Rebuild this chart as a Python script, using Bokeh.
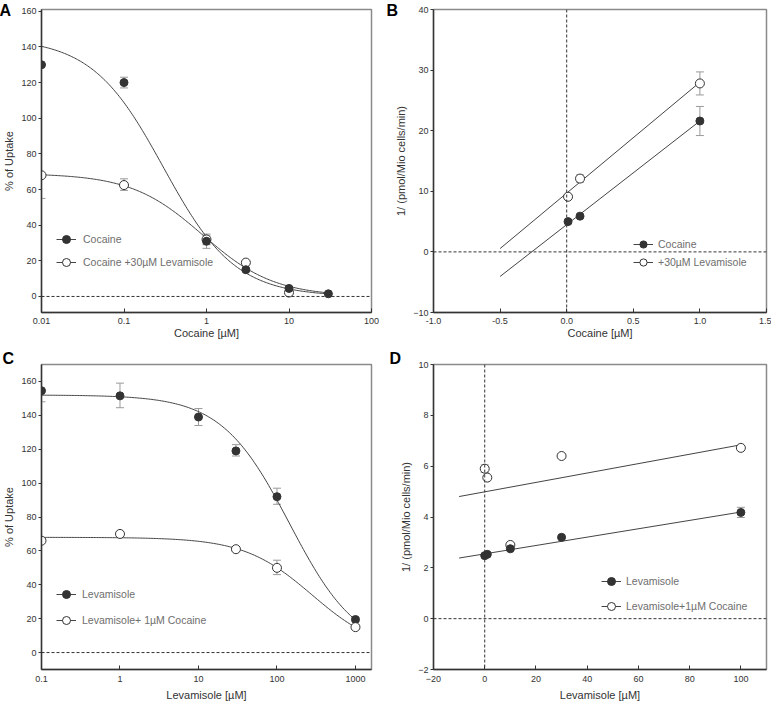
import numpy as np
from bokeh.plotting import figure
from bokeh.models import (Range1d, FixedTicker, CustomJSTickFormatter, Span, Whisker,
                          TeeHead, ColumnDataSource, Legend, LegendItem,
                          NumeralTickFormatter)
from bokeh.layouts import column, row
from bokeh.embed import file_html
from bokeh.resources import INLINE

FONT = "Liberation Sans"
DARK = "#333333"
ERR = "#9a9a9a"

# ---------------- Panel A data ----------------
a_coc_x = [0.01, 0.1, 1, 3, 10, 30]
a_coc_y = [130, 120, 31, 15, 4.5, 1.5]
a_coc_lo = [130, 117, 27, 14, 3.5, 1.0]
a_coc_hi = [130, 123, 35, 16, 5.5, 2.0]
a_lev_x = [0.01, 0.1, 1, 3, 10]
a_lev_y = [68, 62.5, 32, 19, 2.2]
a_lev_lo = [55, 59.5, 29, 18, 1.5]
a_lev_hi = [68, 66, 34, 20, 3.0]
a_coc_fit = [145, 0.3, 1.0]   # top, IC50, hill
a_lev_fit = [69, 0.9, 1.0]
a_xticks = [0.01, 0.1, 1, 10, 100]
a_yticks = [0, 20, 40, 60, 80, 100, 120, 140, 160]

# ---------------- Panel B data ----------------
b_x = [0.01, 0.1, 1.0]
b_coc_y = [5.0, 5.9, 21.6]
b_coc_lo = [4.7, 5.6, 19.2]
b_coc_hi = [5.3, 6.2, 24.0]
b_lev_y = [9.1, 12.1, 27.8]
b_lev_lo = [8.8, 11.5, 25.9]
b_lev_hi = [9.4, 12.7, 29.7]
b_coc_line = [17.1, 4.5]      # slope, intercept
b_lev_line = [18.3, 9.7]
b_line_span = [-0.5, 1.0]
b_xticks = [-1.0, -0.5, 0.0, 0.5, 1.0, 1.5]
b_yticks = [-10, 0, 10, 20, 30, 40]

# ---------------- Panel C data ----------------
c_lev_x = [0.1, 1, 10, 30, 100, 1000]
c_lev_y = [154.5, 151.5, 139, 119, 92, 19.5]
c_lev_lo = [148, 144.5, 134, 116, 87.5, 18.5]
c_lev_hi = [154.5, 159, 144, 122.7, 97, 20.5]
c_mix_x = [0.1, 1, 30, 100, 1000]
c_mix_y = [66, 70, 61, 50, 15]
c_mix_lo = [66, 70, 60, 46, 14.5]
c_mix_hi = [66, 70, 62, 54.5, 16]
c_lev_fit = [152, 145, 1.0]
c_mix_fit = [68, 280, 1.0]
c_xticks = [0.1, 1, 10, 100, 1000]
c_yticks = [0, 20, 40, 60, 80, 100, 120, 140, 160]

# ---------------- Panel D data ----------------
d_x = [0, 1, 10, 30, 100]
d_lev_y = [2.48, 2.53, 2.75, 3.2, 4.18]
d_lev_lo = [2.45, 2.5, 2.7, 3.15, 3.98]
d_lev_hi = [2.51, 2.56, 2.8, 3.25, 4.38]
d_mix_y = [5.9, 5.55, 2.9, 6.4, 6.72]
d_mix_lo = [5.75, 5.5, 2.85, 6.35, 6.67]
d_mix_hi = [6.05, 5.6, 2.95, 6.45, 6.77]
d_lev_line = [0.01645, 2.55]
d_mix_line = [0.0185, 4.99]
d_line_span = [-10, 100]
d_xticks = [-20, 0, 20, 40, 60, 80, 100]
d_yticks = [-2, 0, 2, 4, 6, 8, 10]


def logistic(xs, fit):
    top, ic50, h = fit
    xs = np.asarray(xs, dtype=float)
    return top / (1.0 + (xs / ic50) ** h)


def make_fig(width, height, bl, br, bt, bb, xr, yr, xlog, xlabel, ylabel,
             xticks, yticks, s1, s2):
    p = figure(width=width, height=height, output_backend="svg",
               toolbar_location=None, x_axis_type="log" if xlog else "linear",
               x_range=Range1d(*xr), y_range=Range1d(*yr),
               min_border_left=bl, min_border_right=br,
               min_border_top=bt, min_border_bottom=bb)
    p.grid.visible = False
    p.outline_line_color = "#8a8a8a"
    p.outline_line_width = 1.5
    p.background_fill_color = "white"
    p.border_fill_color = "white"
    for ax in (p.xaxis[0], p.yaxis[0]):
        ax.axis_line_color = DARK
        ax.axis_line_width = 1.4
        ax.major_tick_line_color = DARK
        ax.minor_tick_line_color = None
        ax.major_label_text_font = FONT
        ax.major_label_text_font_size = "9px"
        ax.major_label_text_color = DARK
        ax.axis_label_text_font = FONT
        ax.axis_label_text_font_size = "11px"
        ax.axis_label_text_font_style = "normal"
        ax.axis_label_text_color = DARK
    p.xaxis.axis_label = xlabel
    p.yaxis.axis_label = ylabel
    p.xaxis.ticker = FixedTicker(ticks=xticks)
    p.yaxis.ticker = FixedTicker(ticks=yticks)
    p.xaxis.major_tick_in = 4
    p.xaxis.major_tick_out = 0
    p.yaxis.major_tick_in = 0
    p.yaxis.major_tick_out = 3
    p.xaxis.major_label_standoff = s1
    p.xaxis.axis_label_standoff = s2
    p.yaxis.major_label_standoff = 2
    p.yaxis.axis_label_standoff = 3
    if xlog:
        p.xaxis.formatter = CustomJSTickFormatter(code="return String(tick);")
    return p


def add_series(p, x, y, lo, hi, filled):
    src = ColumnDataSource(dict(x=x, y=y, lo=lo, hi=hi))
    w = Whisker(source=src, base="x", upper="hi", lower="lo", dimension="height",
                line_color=ERR, line_width=1,
                upper_head=TeeHead(size=8, line_color=ERR, line_width=1),
                lower_head=TeeHead(size=8, line_color=ERR, line_width=1))
    p.add_layout(w)
    if filled:
        r = p.scatter("x", "y", source=src, size=8, fill_color=DARK, line_color=DARK)
    else:
        r = p.scatter("x", "y", source=src, size=9, fill_color="white",
                      line_color=DARK, line_width=1)
    return r


def add_zero(p, vertical=False):
    p.add_layout(Span(location=0, dimension="width", line_color=DARK,
                      line_dash="3 2", line_width=1))
    if vertical:
        p.add_layout(Span(location=0, dimension="height", line_color=DARK,
                          line_dash="3 2", line_width=1))


def add_legend(p, items, x, y, spacing, standoff, gh=20):
    leg = Legend(items=[LegendItem(label=l, renderers=r) for l, r in items],
                 location=(x, y), glyph_width=20, glyph_height=gh,
                 label_height=gh, spacing=spacing, padding=0, margin=0,
                 label_standoff=standoff, label_text_font=FONT,
                 label_text_font_size="10.5px", label_text_color="#6e6e6e",
                 background_fill_alpha=0, border_line_alpha=0)
    p.add_layout(leg)


def add_letter(p, text, xoff, standoff):
    t = p.title
    t.text = text
    t.align = "left"
    t.offset = xoff
    t.standoff = standoff
    t.vertical_align = "bottom"
    t.text_font = FONT
    t.text_font_style = "bold"
    t.text_font_size = "16px"
    t.text_color = "black"


# ---------------- Panel A ----------------
pA = make_fig(383, 342, 38, 12, 9, 30, (0.01, 100), (-9, 161), True,
              "Cocaine [µM]", "% of Uptake", a_xticks, a_yticks, 5, 0)
add_zero(pA)
xs = np.logspace(-2, np.log10(30), 200)
lA1 = pA.line(xs, logistic(xs, a_coc_fit), line_color="#444444", line_width=1)
lA2 = pA.line(xs, logistic(xs, a_lev_fit), line_color="#444444", line_width=1)
sA2 = add_series(pA, a_lev_x, a_lev_y, a_lev_lo, a_lev_hi, False)
sA1 = add_series(pA, a_coc_x, a_coc_y, a_coc_lo, a_coc_hi, True)
add_legend(pA, [("Cocaine", [lA1, sA1]), ("Cocaine +30µM Levamisole", [lA2, sA2])],
           15, 40, 3, 7)
add_letter(pA, "A", -42, -19)

# ---------------- Panel B ----------------
pB = make_fig(388, 342, 50, 5, 9, 30, (-1.0, 1.5), (-10, 40), False,
              "Cocaine [µM]", "1/ (pmol/Mio cells/min)", b_xticks, b_yticks, 5, 0)
pB.xaxis.formatter = NumeralTickFormatter(format="0.0")
add_zero(pB, vertical=True)
bx = np.array(b_line_span)
lB1 = pB.line(bx, b_coc_line[0] * bx + b_coc_line[1], line_color="#444444", line_width=1)
lB2 = pB.line(bx, b_lev_line[0] * bx + b_lev_line[1], line_color="#444444", line_width=1)
sB1 = add_series(pB, b_x, b_coc_y, b_coc_lo, b_coc_hi, True)
sB2 = add_series(pB, b_x, b_lev_y, b_lev_lo, b_lev_hi, False)
add_legend(pB, [("Cocaine", [lB1, sB1]), ("+30µM Levamisole", [lB2, sB2])],
           200, 41, 0, 5, gh=18)
add_letter(pB, "B", -47, -19)

# ---------------- Panel C ----------------
pC = make_fig(383, 361, 38, 12, 22, 33, (0.1, 1600), (-10, 170), True,
              "Levamisole [µM]", "% of Uptake", c_xticks, c_yticks, 6, 4)
add_zero(pC)
xs = np.logspace(-1, 3, 200)
lC1 = pC.line(xs, logistic(xs, c_lev_fit), line_color="#444444", line_width=1)
lC2 = pC.line(xs, logistic(xs, c_mix_fit), line_color="#444444", line_width=1)
sC1 = add_series(pC, c_lev_x, c_lev_y, c_lev_lo, c_lev_hi, True)
sC2 = add_series(pC, c_mix_x, c_mix_y, c_mix_lo, c_mix_hi, False)
add_legend(pC, [("Levamisole", [lC1, sC1]), ("Levamisole+ 1µM Cocaine", [lC2, sC2])],
           15, 39, 6, 6)
add_letter(pC, "C", -39, -5)

# ---------------- Panel D ----------------
pD = make_fig(388, 361, 50, 5, 22, 33, (-20, 110), (-2, 10), False,
              "Levamisole [µM]", "1/ (pmol/Mio cells/min)", d_xticks, d_yticks, 6, 4)
add_zero(pD, vertical=True)
dx = np.array(d_line_span)
lD1 = pD.line(dx, d_lev_line[0] * dx + d_lev_line[1], line_color="#444444", line_width=1)
lD2 = pD.line(dx, d_mix_line[0] * dx + d_mix_line[1], line_color="#444444", line_width=1)
sD2 = add_series(pD, d_x, d_mix_y, d_mix_lo, d_mix_hi, False)
sD1 = add_series(pD, d_x, d_lev_y, d_lev_lo, d_lev_hi, True)
add_legend(pD, [("Levamisole", [lD1, sD1]), ("Levamisole+1µM Cocaine", [lD2, sD2])],
           168, 53, 5, 5)
add_letter(pD, "D", -44, -5)

layout = column(row(pA, pB), row(pC, pD))
open("out.html", "w").write(file_html(layout, INLINE))
